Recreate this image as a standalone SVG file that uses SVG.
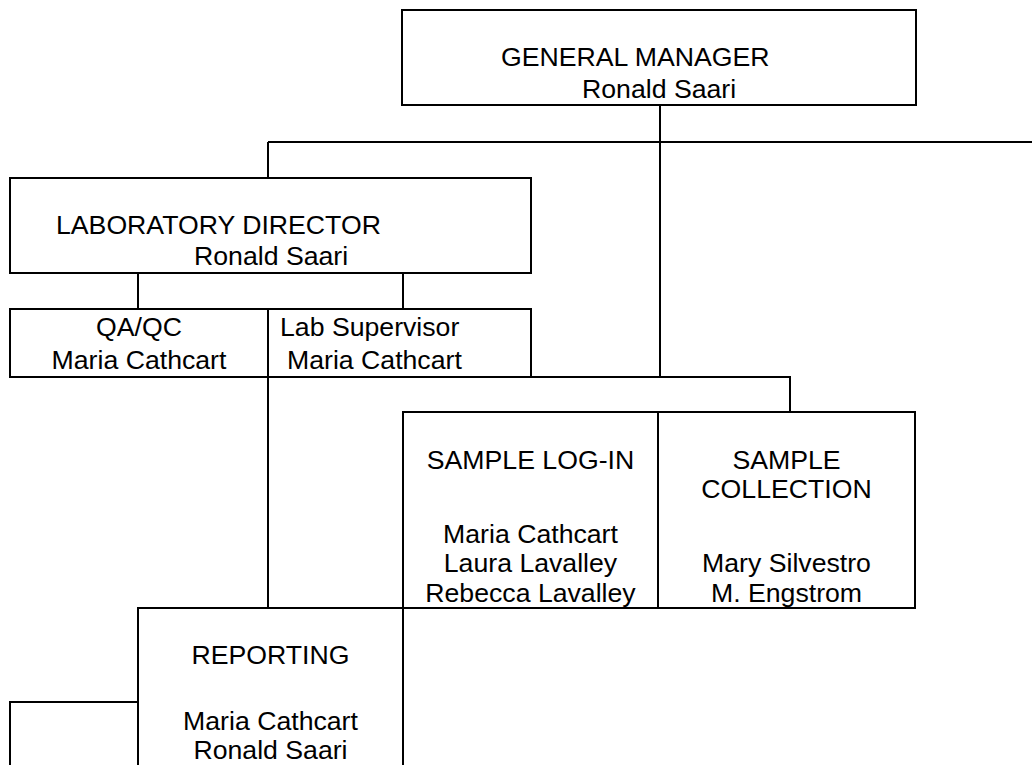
<svg xmlns="http://www.w3.org/2000/svg" width="1032" height="765" viewBox="0 0 1032 765">
<style>
.box{fill:#fff;stroke:#000;stroke-width:2}
.ln{fill:none;stroke:#000;stroke-width:2}
text{font-family:"Liberation Sans",Arial,sans-serif;font-size:26.67px;fill:#000}
.c{text-anchor:middle}
</style>
<rect width="1032" height="765" fill="#fff"/>
<g id="connectors">
<path class="ln" d="M660 105V377"/>
<path class="ln" d="M268 142H1032"/>
<path class="ln" d="M268 142V178"/>
<path class="ln" d="M138 273V309"/>
<path class="ln" d="M403 273V309"/>
<path class="ln" d="M531 377H790V412"/>
<path class="ln" d="M268 377V608"/>
<path class="ln" d="M138 702H10V765"/>
</g>
<g id="gm">
<rect class="box" x="402" y="10" width="514" height="95"/>
<text x="501" y="66">GENERAL MANAGER</text>
<text x="582" y="98">Ronald Saari</text>
</g>
<g id="lab-director">
<rect class="box" x="10" y="178" width="521" height="95"/>
<text x="56" y="234">LABORATORY DIRECTOR</text>
<text x="194" y="265">Ronald Saari</text>
</g>
<g id="qaqc">
<rect class="box" x="10" y="309" width="258" height="68"/>
<text class="c" x="139" y="336">QA/QC</text>
<text class="c" x="139" y="369">Maria Cathcart</text>
</g>
<g id="lab-supervisor">
<rect class="box" x="268" y="309" width="263" height="68"/>
<text x="280" y="336">Lab Supervisor</text>
<text x="287" y="369">Maria Cathcart</text>
</g>
<g id="sample-login">
<rect class="box" x="403" y="412" width="255" height="196"/>
<text class="c" x="530.5" y="469">SAMPLE LOG-IN</text>
<text class="c" x="530.5" y="543">Maria Cathcart</text>
<text class="c" x="530.5" y="572">Laura Lavalley</text>
<text class="c" x="530.5" y="602">Rebecca Lavalley</text>
</g>
<g id="sample-collection">
<rect class="box" x="658" y="412" width="257" height="196"/>
<text class="c" x="786.5" y="469">SAMPLE</text>
<text class="c" x="786.5" y="498">COLLECTION</text>
<text class="c" x="786.5" y="572">Mary Silvestro</text>
<text class="c" x="786.5" y="602">M. Engstrom</text>
</g>
<g id="reporting">
<rect class="box" x="138" y="608" width="265" height="170"/>
<text class="c" x="270.5" y="664">REPORTING</text>
<text class="c" x="270.5" y="730">Maria Cathcart</text>
<text class="c" x="270.5" y="759">Ronald Saari</text>
</g>
</svg>
